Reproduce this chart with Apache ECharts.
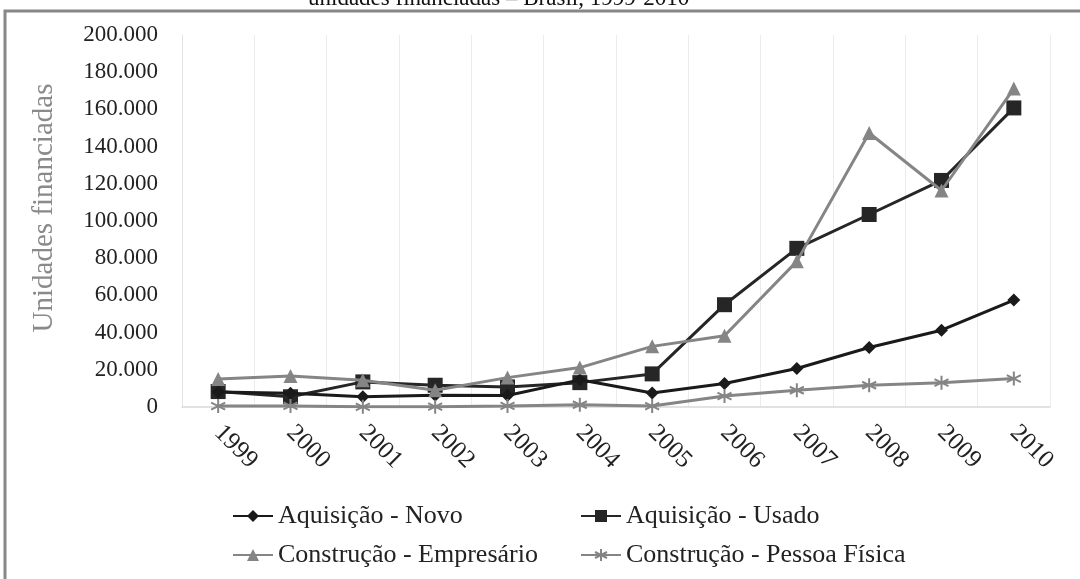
<!DOCTYPE html>
<html>
<head>
<meta charset="utf-8">
<script src="https://cdn.jsdelivr.net/npm/echarts@6/dist/echarts.min.js"></script>
<style>
  html, body { margin: 0; padding: 0; background: #fff; }
  #main { width: 1080px; height: 579px; }
</style>
</head>
<body>
<div id="main"></div>
<script>
// dados
const anos = ['1999', '2000', '2001', '2002', '2003', '2004', '2005', '2006', '2007', '2008', '2009', '2010'];
const aquisicaoNovo = [8000, 7400, 5500, 6300, 6200, 14600, 7500, 12600, 20700, 32000, 41300, 57500];
const aquisicaoUsado = [8300, 5500, 13500, 11700, 10800, 13100, 17800, 55000, 85300, 103500, 121800, 160800];
const construcaoEmpresario = [15100, 16700, 14400, 9000, 15800, 21200, 32600, 38300, 78300, 147300, 116400, 171200];
const construcaoPessoaFisica = [500, 600, 100, 200, 600, 1200, 500, 5900, 9000, 11700, 13100, 15300];
const yTicks = [0, 20000, 40000, 60000, 80000, 100000, 120000, 140000, 160000, 180000, 200000];

const serif = '"Liberation Serif", "DejaVu Serif", serif';
const asterisco = 'path://M5 0 L5 10 M0.7 2.5 L9.3 7.5 M9.3 2.5 L0.7 7.5';

function fmt(v) {
  return String(v).replace(/\B(?=(\d{3})+(?!\d))/g, '.');
}

const chart = echarts.init(document.getElementById('main'));

function legenda(nome, left, top) {
  return {
    data: [nome],
    left: left,
    top: top,
    itemWidth: 40,
    itemHeight: 15,
    itemGap: 0,
    textStyle: { fontFamily: serif, fontSize: 26, color: '#222' }
  };
}

chart.setOption({
  animation: false,
  title: {
    text: 'unidades financiadas – Brasil, 1999-2010',
    left: 303,
    top: -18,
    textStyle: { fontFamily: serif, fontSize: 23, fontWeight: 'normal', color: '#111' }
  },
  graphic: [
    {
      type: 'rect',
      shape: { x: 5, y: 11, width: 1200, height: 700 },
      style: { fill: 'none', stroke: '#878787', lineWidth: 3 }
    },
    {
      // título do eixo y
      type: 'text',
      x: 44,
      y: 208,
      rotation: Math.PI / 2,
      style: {
        text: 'Unidades financiadas',
        font: '29px ' + serif,
        fill: '#8a8a8a',
        align: 'center',
        verticalAlign: 'middle'
      }
    }
  ],
  legend: [
    legenda('Aquisição - Novo', 227, 498),
    legenda('Aquisição - Usado', 575, 498),
    legenda('Construção - Empresário', 227, 537),
    legenda('Construção - Pessoa Física', 575, 537)
  ],
  grid: { left: 182, right: 30, top: 35, bottom: 172 },
  xAxis: {
    type: 'category',
    data: anos,
    boundaryGap: true,
    axisLine: { lineStyle: { color: '#d9d9d9', width: 1.5 } },
    axisTick: { show: false },
    splitLine: { show: true, lineStyle: { color: '#ececec', width: 1 } },
    axisLabel: {
      rotate: -45,
      margin: 22,
      interval: 0,
      fontFamily: serif,
      fontSize: 25,
      color: '#222'
    }
  },
  yAxis: {
    type: 'value',
    min: 0,
    max: 200000,
    interval: 20000,
    axisLine: { show: true, lineStyle: { color: '#e3e3e3', width: 1 } },
    axisTick: { show: false },
    splitLine: { show: false },
    axisLabel: {
      margin: 24,
      fontFamily: serif,
      fontSize: 23,
      color: '#222',
      formatter: function (v) { return yTicks.indexOf(v) >= 0 ? fmt(v) : ''; }
    }
  },
  series: [
    {
      name: 'Aquisição - Novo',
      type: 'line',
      data: aquisicaoNovo,
      symbol: 'diamond',
      symbolSize: 13,
      z: 4,
      lineStyle: { color: '#1a1a1a', width: 3 },
      itemStyle: { color: '#1a1a1a' }
    },
    {
      name: 'Aquisição - Usado',
      type: 'line',
      data: aquisicaoUsado,
      symbol: 'rect',
      symbolSize: 15,
      z: 3,
      lineStyle: { color: '#262626', width: 3 },
      itemStyle: { color: '#262626' }
    },
    {
      name: 'Construção - Empresário',
      type: 'line',
      data: construcaoEmpresario,
      symbol: 'triangle',
      symbolSize: 14,
      z: 5,
      lineStyle: { color: '#858585', width: 3 },
      itemStyle: { color: '#858585' }
    },
    {
      name: 'Construção - Pessoa Física',
      type: 'line',
      data: construcaoPessoaFisica,
      symbol: asterisco,
      symbolSize: 14,
      z: 6,
      lineStyle: { color: '#858585', width: 3 },
      itemStyle: { color: '#858585', borderColor: '#858585', borderWidth: 2 }
    }
  ]
});
</script>
</body>
</html>
